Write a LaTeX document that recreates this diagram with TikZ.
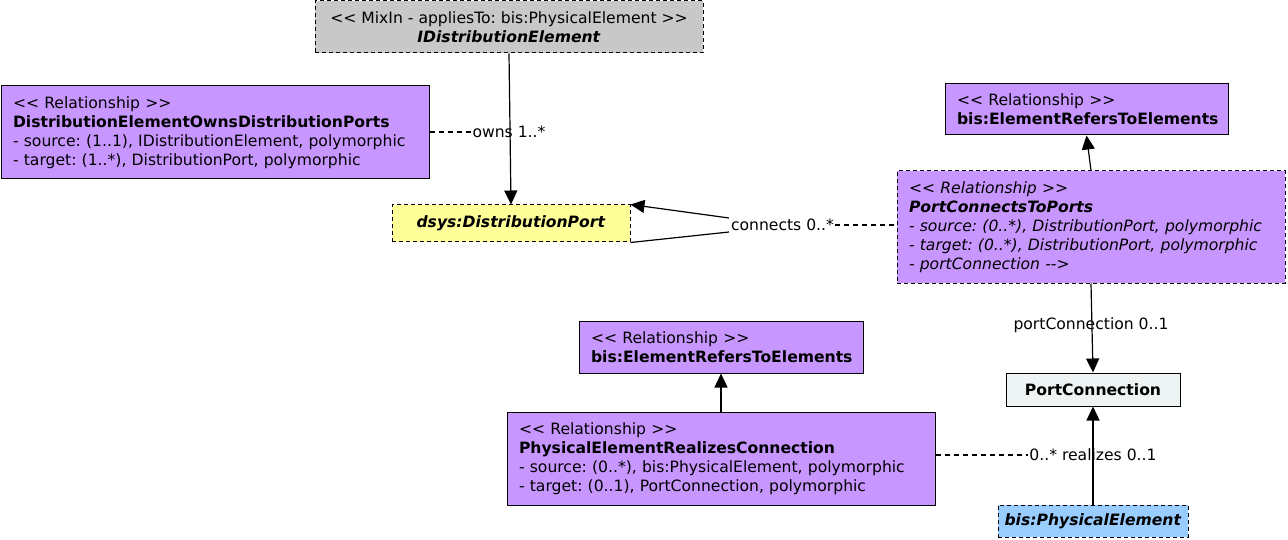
\documentclass[tikz,border=0pt]{standalone}
\usepackage{fontspec}
\setmainfont{DejaVu Sans}
\usetikzlibrary{arrows.meta}
\definecolor{relpurple}{HTML}{C896FF}
\definecolor{mixgray}{HTML}{C8C8C8}
\definecolor{portyellow}{HTML}{FFFF99}
\definecolor{physblue}{HTML}{99CCFF}
\definecolor{connlight}{HTML}{EEF4F4}
\tikzset{
  base/.style={draw=black, line width=1pt, inner ysep=0pt, font=\fontsize{15.6}{19}\selectfont\frenchspacing},
  dsh/.style={dash pattern=on 4pt off 3pt},
  leftbox/.style={base, align=left, inner xsep=12pt},
  centerbox/.style={base, align=center, inner xsep=4pt},
  lbl/.style={inner sep=1pt, font=\fontsize{15.6}{17}\selectfont\frenchspacing},
  conn/.style={line width=1.2pt, -{Triangle[length=14pt,width=13pt]}},
  plain/.style={line width=1.2pt},
  dconn/.style={line width=1.1pt, dash pattern=on 5pt off 4pt},
}
\begin{document}
\begin{tikzpicture}[x=1pt,y=-1pt]
\useasboundingbox[fill=white] (0,0) rectangle (1288,540);

\node[centerbox, dsh, fill=mixgray, minimum width=388pt, minimum height=52pt] (mix) at (509,27)
  {<{}< MixIn - appliesTo: bis:PhysicalElement >{}>\\\textbf{\textit{IDistributionElement}}};

\node[leftbox, fill=relpurple, text width=404pt, minimum height=93pt] (own) at (215,132.5)
  {<{}< Relationship >{}>\\\textbf{DistributionElementOwnsDistributionPorts}\\- source: (1..1), IDistributionElement, polymorphic\\- target: (1..*), DistributionPort, polymorphic};

\node[centerbox, dsh, fill=portyellow, minimum width=238pt, minimum height=37pt] (port) at (511,223.5)
  {\textbf{\textit{dsys:DistributionPort}}};

\node[leftbox, fill=relpurple, text width=259pt, minimum height=51pt] (refsA) at (1086.5,109.5)
  {<{}< Relationship >{}>\\\textbf{bis:ElementRefersToElements}};

\node[leftbox, dsh, fill=relpurple, text width=364pt, minimum height=112pt] (pctp) at (1091,227)
  {\itshape <{}< Relationship >{}>\\\textbf{PortConnectsToPorts}\\- source: (0..*), DistributionPort, polymorphic\\- target: (0..*), DistributionPort, polymorphic\\- portConnection -{}->};

\node[centerbox, fill=connlight, minimum width=174pt, minimum height=33pt] (pconn) at (1093,389.5)
  {\textbf{PortConnection}};

\node[leftbox, fill=relpurple, text width=260pt, minimum height=52pt] (refsB) at (721,347)
  {<{}< Relationship >{}>\\\textbf{bis:ElementRefersToElements}};

\node[leftbox, fill=relpurple, text width=404pt, minimum height=93pt] (perc) at (721,458.5)
  {<{}< Relationship >{}>\\\textbf{PhysicalElementRealizesConnection}\\- source: (0..*), bis:PhysicalElement, polymorphic\\- target: (0..1), PortConnection, polymorphic};

\node[centerbox, dsh, fill=physblue, minimum width=190pt, minimum height=32pt] (phys) at (1093,521)
  {\textbf{\textit{bis:PhysicalElement}}};

% owns
\draw[conn] (mix.south) -- (port.north);
\node[lbl] (ownsl) at (509,132) {owns 1..*};
\draw[dconn] (own.east |- ownsl.west) -- (ownsl.west);

% connects (self association)
\node[lbl] (connl) at (782.5,225) {connects 0..*};
\coordinate (cA) at (729,218);
\coordinate (cB) at (729,232);
\draw[plain] (port.south east) -- (cB);
\draw[conn] (cA) -- (port.north east);
\draw[dconn] (connl.east) -- (pctp.west |- connl.east);

% generalisation-like arrows
\draw[conn] (pctp.north) -- (refsA.south);
\draw[conn] (perc.north) -- (refsB.south);

% portConnection
\draw[conn] (pctp.south) -- (pconn.north);
\node[lbl] (pcl) at (1091,325) {portConnection 0..1};

% realizes
\draw[conn] (phys.north) -- (pconn.south);
\node[lbl] (rell) at (1093,455) {0..* realizes 0..1};
\draw[dconn] (perc.east |- rell.west) -- (rell.west);
\end{tikzpicture}
\end{document}
